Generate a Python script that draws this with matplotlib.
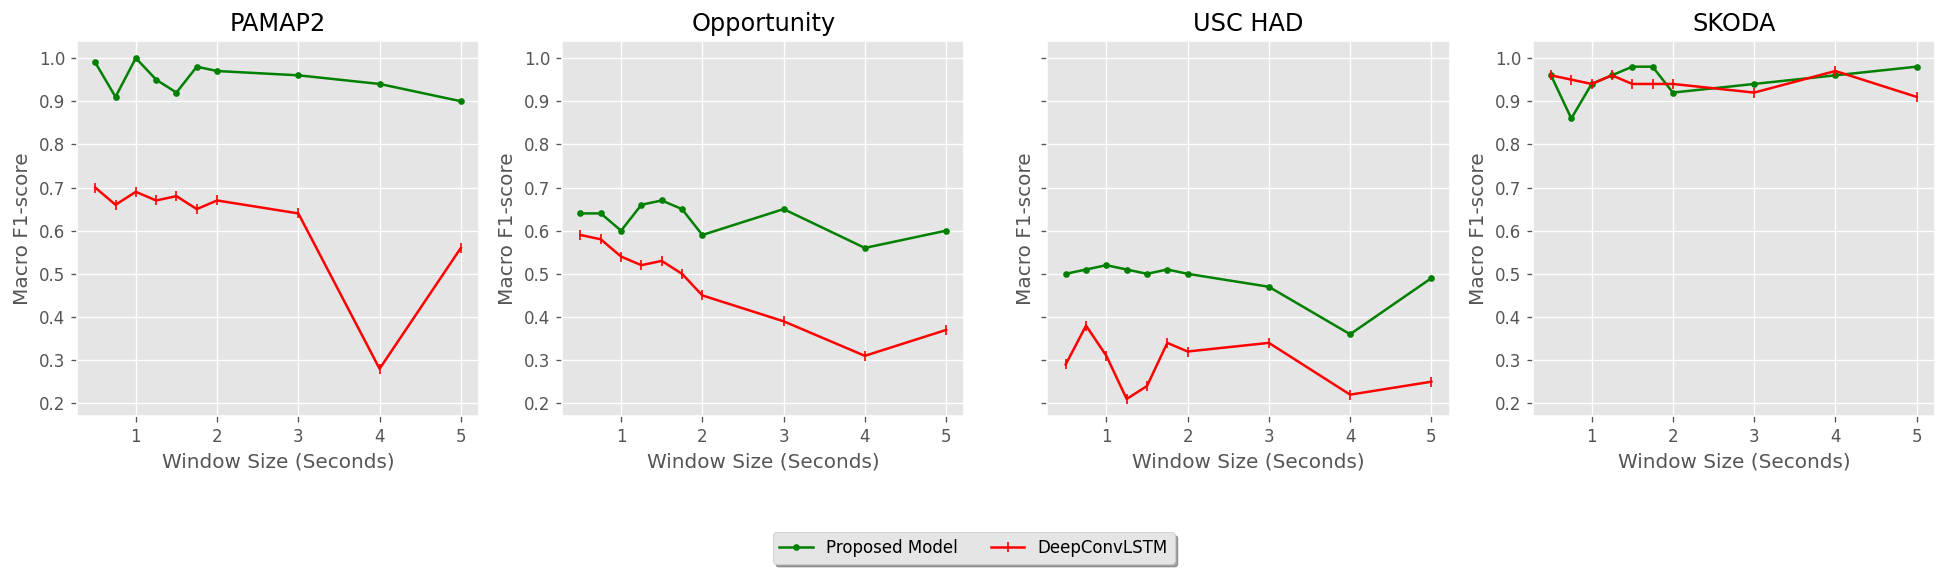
import matplotlib
matplotlib.use("Agg")
import matplotlib.pyplot as plt

plt.style.use("ggplot")

window_sizes = [0.5, 0.75, 1, 1.25, 1.5, 1.75, 2, 3, 4, 5]
datasets = ["PAMAP2", "Opportunity", "USC HAD", "SKODA"]

proposed = {
    "PAMAP2": [0.99, 0.91, 1.00, 0.95, 0.92, 0.98, 0.97, 0.96, 0.94, 0.90],
    "Opportunity": [0.64, 0.64, 0.60, 0.66, 0.67, 0.65, 0.59, 0.65, 0.56, 0.60],
    "USC HAD": [0.50, 0.51, 0.52, 0.51, 0.50, 0.51, 0.50, 0.47, 0.36, 0.49],
    "SKODA": [0.96, 0.86, 0.94, 0.96, 0.98, 0.98, 0.92, 0.94, 0.96, 0.98],
}
deepconvlstm = {
    "PAMAP2": [0.70, 0.66, 0.69, 0.67, 0.68, 0.65, 0.67, 0.64, 0.28, 0.56],
    "Opportunity": [0.59, 0.58, 0.54, 0.52, 0.53, 0.50, 0.45, 0.39, 0.31, 0.37],
    "USC HAD": [0.29, 0.38, 0.31, 0.21, 0.24, 0.34, 0.32, 0.34, 0.22, 0.25],
    "SKODA": [0.96, 0.95, 0.94, 0.96, 0.94, 0.94, 0.94, 0.92, 0.97, 0.91],
}

DPI = 120
fig, axes = plt.subplots(1, 4, figsize=(1947 / DPI, 572 / DPI), dpi=DPI, sharey=True)
fig.subplots_adjust(left=0.0395, right=0.9938, top=0.9283, bottom=0.2727, wspace=0.2065)

for i, (ax, name) in enumerate(zip(axes, datasets)):
    ax.plot(window_sizes, proposed[name], color="green", marker=".", label="Proposed Model")
    ax.plot(window_sizes, deepconvlstm[name], color="red", marker="|", label="DeepConvLSTM")
    ax.set_title(name, fontsize=14.4)
    ax.set_xlabel("Window Size (Seconds)")
    ax.set_ylabel("Macro F1-score")
    ax.set_xticks([1, 2, 3, 4, 5])
    ax.set_yticks([0.2, 0.3, 0.4, 0.5, 0.6, 0.7, 0.8, 0.9, 1.0])
    # the third panel keeps its tick marks but drops the numbers
    ax.tick_params(labelleft=(i != 2))

axes[0].set_ylim(0.1705, 1.0395)

handles, labels = axes[0].get_legend_handles_labels()
fig.legend(handles, labels, loc="center", bbox_to_anchor=(0.5, 0.042), ncol=2, shadow=True)

fig.savefig("out.png", dpi=DPI)
